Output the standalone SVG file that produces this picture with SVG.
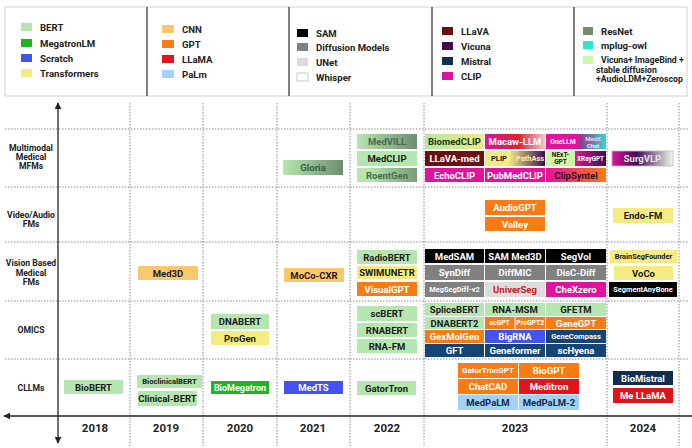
<svg xmlns="http://www.w3.org/2000/svg" width="692" height="448" viewBox="0 0 692 448">
<defs>
<style>
text{font-family:Roboto,"Liberation Sans",sans-serif;font-weight:bold;}
.lg{font-size:9.6px;fill:#222;}
.lg5{font-size:8.7px;fill:#222;}
.rl{font-size:8.6px;fill:#222;text-anchor:middle;}
.yr{font-size:11.5px;fill:#222;text-anchor:middle;}
.t{font-size:9.5px;text-anchor:middle;dominant-baseline:central;fill:#1a1a1a;}
.w{fill:#fff;}
.grid{stroke:#8a8a8a;stroke-width:1;stroke-dasharray:1.5 1.5;fill:none;}
.axis{stroke:#222;stroke-width:1.3;fill:none;}
.bert{fill:#b5e6b0;}.meg{fill:#1fb51f;}.scr{fill:#4453ee;}.trn{fill:#f5eb80;}
.cnn{fill:#fcc76a;}.gpt{fill:#fa7a14;}.lla{fill:#e0141a;}.palm{fill:#a0d2f8;}
.sam{fill:#000;}.dif{fill:#808080;}.une{fill:#dcdcdc;}.whi{fill:#fff;stroke:#bbb;stroke-width:0.8;}
.llv{fill:#6a1212;}.vic{fill:#3f0c50;}.mis{fill:#0e2f4f;}.clp{fill:#e0149a;}
.res{fill:#6e8e6e;}.mpl{fill:#28e8d2;}.vi2{fill:#cdf7a8;}.nav{fill:#164575;}
</style>
<marker id="ah" viewBox="0 0 10 10" refX="9" refY="5" markerWidth="7" markerHeight="7" markerUnits="userSpaceOnUse" orient="auto-start-reverse">
<path d="M0,0 L10,5 L0,10 z" fill="#222"/>
</marker>
<linearGradient id="gRes"><stop offset="0" stop-color="#b5e6b0"/><stop offset="1" stop-color="#6e8e6e"/></linearGradient>
<linearGradient id="gRes2"><stop offset="0.2" stop-color="#b5e6b0"/><stop offset="1" stop-color="#7a9a7a"/></linearGradient>
<linearGradient id="gBio"><stop offset="0" stop-color="#b5e6a0"/><stop offset="1" stop-color="#f2ea82"/></linearGradient>
<linearGradient id="gMac"><stop offset="0" stop-color="#e0149a"/><stop offset="0.55" stop-color="#e0202a"/><stop offset="1" stop-color="#f3c4d0"/></linearGradient>
<linearGradient id="gMedX"><stop offset="0" stop-color="#8a3a8e"/><stop offset="1" stop-color="#30d8d0"/></linearGradient>
<linearGradient id="gPlip"><stop offset="0.4" stop-color="#f2ea82"/><stop offset="1" stop-color="#3f0c50"/></linearGradient>
<linearGradient id="gXr"><stop offset="0" stop-color="#e0149a"/><stop offset="1" stop-color="#3f0c50"/></linearGradient>
<linearGradient id="gCs"><stop offset="0" stop-color="#e0149a"/><stop offset="1" stop-color="#fa7a14"/></linearGradient>
<linearGradient id="gSurg"><stop offset="0" stop-color="#e0149a"/><stop offset="0.4" stop-color="#3f0c50"/><stop offset="1" stop-color="#f0f8ee"/></linearGradient>
</defs>
<rect width="692" height="448" fill="#fff"/>

<g id="legend">
<rect x="5" y="7" width="682" height="89" fill="#fff" stroke="#cfcfcf"/>
<g stroke="#555" stroke-width="1.5"><line x1="147" y1="7" x2="147" y2="96"/><line x1="289" y1="7" x2="289" y2="96"/><line x1="432" y1="7" x2="432" y2="96"/><line x1="574" y1="7" x2="574" y2="96"/></g>
<rect x="21" y="23" width="11" height="8" class="bert"/><text class="lg" x="40" y="30.5">BERT</text>
<rect x="21" y="39" width="11" height="8" class="meg"/><text class="lg" x="40" y="46.5">MegatronLM</text>
<rect x="21" y="54" width="11" height="8" class="scr"/><text class="lg" x="40" y="61.5">Scratch</text>
<rect x="21" y="69" width="11" height="8" class="trn"/><text class="lg" x="40" y="76.5">Transformers</text>
<rect x="162" y="25" width="12" height="8" class="cnn"/><text class="lg" x="182" y="32.5">CNN</text>
<rect x="162" y="40" width="12" height="8" class="gpt"/><text class="lg" x="182" y="47.5">GPT</text>
<rect x="162" y="55" width="12" height="8" class="lla"/><text class="lg" x="182" y="62.5">LLaMA</text>
<rect x="162" y="70" width="12" height="8" class="palm"/><text class="lg" x="182" y="77.5">PaLm</text>
<rect x="297" y="29" width="11" height="8" class="sam"/><text class="lg" x="316" y="36.5">SAM</text>
<rect x="297" y="43" width="11" height="8" class="dif"/><text class="lg" x="316" y="50.5">Diffusion Models</text>
<rect x="297" y="58" width="11" height="8" class="une"/><text class="lg" x="316" y="65.5">UNet</text>
<rect x="297" y="73" width="11" height="8" class="whi"/><text class="lg" x="316" y="80.5">Whisper</text>
<rect x="442" y="27" width="11" height="8" class="llv"/><text class="lg" x="461" y="34.5">LLaVA</text>
<rect x="442" y="42" width="11" height="8" class="vic"/><text class="lg" x="461" y="49.5">Vicuna</text>
<rect x="442" y="57" width="11" height="8" class="mis"/><text class="lg" x="461" y="64.5">Mistral</text>
<rect x="442" y="72" width="11" height="8" class="clp"/><text class="lg" x="461" y="79.5">CLIP</text>
<rect x="583" y="27" width="10" height="8" class="res"/><text class="lg" x="601" y="34.5">ResNet</text>
<rect x="583" y="41" width="10" height="8" class="mpl"/><text class="lg" x="601" y="48.5">mplug-owl</text>
<rect x="583" y="56" width="10" height="8" class="vi2"/><text class="lg5" x="601" y="63">Vicuna+ ImageBind +</text>
<text class="lg5" x="596" y="72.5">stable diffusion</text>
<text class="lg5" x="596" y="82">+AudioLDM+Zeroscop</text>
</g>

<g id="connectors">
<g class="grid">
<line x1="5" y1="129" x2="688" y2="129"/><line x1="5" y1="187" x2="688" y2="187"/><line x1="5" y1="242" x2="688" y2="242"/><line x1="5" y1="301" x2="688" y2="301"/><line x1="5" y1="359" x2="688" y2="359"/>
<line x1="130" y1="103" x2="130" y2="446"/><line x1="203" y1="103" x2="203" y2="446"/><line x1="277" y1="103" x2="277" y2="446"/><line x1="350" y1="103" x2="350" y2="446"/><line x1="424" y1="103" x2="424" y2="446"/><line x1="607" y1="103" x2="607" y2="446"/><line x1="679" y1="103" x2="679" y2="446"/>
</g>
<line class="axis" x1="58" y1="103" x2="58" y2="443" marker-start="url(#ah)" marker-end="url(#ah)"/>
<line class="axis" x1="4" y1="416" x2="692" y2="416" marker-start="url(#ah)"/>
</g>

<g id="labels">
<text class="rl" x="31" y="151">Multimodal</text><text class="rl" x="31" y="160">Medical</text><text class="rl" x="31" y="169">MFMs</text>
<text class="rl" x="31" y="218">Video/Audio</text><text class="rl" x="31" y="227">FMs</text>
<text class="rl" x="31" y="266">Vision Based</text><text class="rl" x="31" y="275.5">Medical</text><text class="rl" x="31" y="285">FMs</text>
<text class="rl" x="31" y="333">OMICS</text>
<text class="rl" x="31" y="391">CLLMs</text>
<text class="yr" x="95" y="432">2018</text><text class="yr" x="166" y="432">2019</text><text class="yr" x="240" y="432">2020</text><text class="yr" x="313" y="432">2021</text><text class="yr" x="387" y="432">2022</text><text class="yr" x="515" y="432">2023</text><text class="yr" x="643" y="432">2024</text>
</g>

<!-- Multimodal -->
<g id="gloria"><rect x="283" y="160" width="60" height="15" fill="url(#gRes)"/><text class="t" x="313" y="167.5" style="fill:#3d5c3d">Gloria</text></g>
<g id="medvill"><rect x="357" y="134" width="60" height="15" fill="url(#gRes)"/><text class="t" x="387" y="141.5" style="fill:#4a6a4a">MedVILL</text></g>
<g id="medclip"><rect x="357" y="151" width="60" height="15" class="bert"/><text class="t" x="387" y="158.5">MedCLIP</text></g>
<g id="roentgen"><rect x="357" y="168" width="60" height="14" fill="url(#gRes2)"/><text class="t" x="387" y="175" style="fill:#4a6a4a">RoentGen</text></g>
<g id="biomedclip"><rect x="425" y="134" width="59" height="15" fill="url(#gBio)"/><text class="t" x="454.5" y="141.5" style="fill:#163a16">BiomedCLIP</text></g>
<g id="macaw"><rect x="485" y="134" width="60" height="15" fill="url(#gMac)"/><text class="t w" x="515" y="141.5">Macaw-LLM</text></g>
<g id="onellm"><rect x="546" y="134" width="34" height="15" class="clp"/><text class="t w" x="563" y="141.5" style="font-size:6.8px">OneLLM</text></g>
<g id="medxchat"><rect x="580" y="134" width="26" height="15" fill="url(#gMedX)"/><text class="t" x="593" y="138" style="font-size:6px;fill:#f0d0f0">MedX</text><text class="t" x="593" y="145" style="font-size:6px;fill:#f0f0f0">Chat</text></g>
<g id="llavamed"><rect x="425" y="151" width="59" height="15" class="llv"/><text class="t w" x="454.5" y="158.5">LLaVA-med</text></g>
<g id="plip"><rect x="485" y="151" width="60" height="15" fill="url(#gPlip)"/><text class="t" x="499" y="158.5" style="font-size:7.5px">PLIP</text><text class="t" x="530" y="158.5" style="font-size:7.5px;fill:#f4eec0">PathAss</text></g>
<g id="nextgpt"><rect x="546" y="151" width="29" height="15" class="vi2"/><text class="t" x="560.5" y="155" style="font-size:6.5px">NExT-</text><text class="t" x="560.5" y="162" style="font-size:6.5px">GPT</text></g>
<g id="xraygpt"><rect x="575" y="151" width="31" height="15" fill="url(#gXr)"/><text class="t w" x="590.5" y="158.5" style="font-size:6.3px">XRayGPT</text></g>
<g id="echoclip"><rect x="425" y="168" width="59" height="14" class="clp"/><text class="t w" x="454.5" y="175">EchoCLIP</text></g>
<g id="pubmedclip"><rect x="485" y="168" width="60" height="14" class="clp"/><text class="t w" x="515" y="175">PubMedCLIP</text></g>
<g id="clipsyntel"><rect x="546" y="168" width="60" height="14" fill="url(#gCs)"/><text class="t" x="576" y="175" style="fill:#3b0b26">ClipSyntel</text></g>
<g id="surgvlp"><rect x="612" y="151" width="61" height="15" fill="url(#gSurg)" stroke="#bbb" stroke-width="0.8"/><text class="t" x="642.5" y="158.5" style="fill:#e4e4e4">SurgVLP</text></g>

<!-- Video/Audio -->
<g id="audiogpt"><rect x="485" y="200" width="60" height="15" class="gpt"/><text class="t w" x="515" y="207.5">AudioGPT</text></g>
<g id="valley"><rect x="485" y="217" width="60" height="14" class="gpt"/><text class="t w" x="515" y="224">Valley</text></g>
<g id="endofm"><rect x="613" y="208" width="60" height="15" class="trn"/><text class="t" x="643" y="215.5">Endo-FM</text></g>

<!-- Vision -->
<g id="med3d"><rect x="138" y="266" width="60" height="14" class="cnn"/><text class="t" x="168" y="273">Med3D</text></g>
<g id="mococxr"><rect x="284" y="268" width="60" height="14" class="cnn"/><text class="t" x="314" y="275">MoCo-CXR</text></g>
<g id="radiobert"><rect x="357" y="250" width="60" height="14" class="bert"/><text class="t" x="387" y="257">RadioBERT</text></g>
<g id="swimunetr"><rect x="357" y="266" width="60" height="13" class="trn"/><text class="t" x="387" y="272.5">SWIMUNETR</text></g>
<g id="visualgpt"><rect x="357" y="282" width="60" height="14" class="gpt"/><text class="t w" x="387" y="289">VisualGPT</text></g>
<g id="medsam"><rect x="425" y="249" width="59" height="14" class="sam"/><text class="t w" x="454.5" y="256">MedSAM</text></g>
<g id="sammed3d"><rect x="485" y="249" width="60" height="14" class="sam"/><text class="t w" x="515" y="256">SAM Med3D</text></g>
<g id="segvol"><rect x="546" y="249" width="60" height="14" class="sam"/><text class="t w" x="576" y="256">SegVol</text></g>
<g id="syndiff"><rect x="425" y="265" width="59" height="15" class="dif"/><text class="t w" x="454.5" y="272.5">SynDiff</text></g>
<g id="diffmic"><rect x="485" y="265" width="60" height="15" class="dif"/><text class="t w" x="515" y="272.5">DiffMIC</text></g>
<g id="discdiff"><rect x="546" y="265" width="60" height="15" class="dif"/><text class="t w" x="576" y="272.5">DisC-Diff</text></g>
<g id="megsegdiff"><rect x="425" y="282" width="59" height="15" class="dif"/><text class="t w" x="454.5" y="289.5" style="font-size:7.4px">MegSegDiff-v2</text></g>
<g id="universeg"><rect x="485" y="282" width="60" height="15" class="une"/><text class="t" x="515" y="289.5" style="fill:#d01818">UniverSeg</text></g>
<g id="chexzero"><rect x="546" y="282" width="60" height="15" class="clp"/><text class="t w" x="576" y="289.5">CheXzero</text></g>
<g id="brainseg"><rect x="610" y="250" width="67" height="13" class="trn"/><text class="t" x="643.5" y="256.5" style="font-size:7.4px">BrainSegFounder</text></g>
<g id="voco"><rect x="614" y="266" width="59" height="14" class="trn"/><text class="t" x="643.5" y="273">VoCo</text></g>
<g id="segmentanybone"><rect x="609" y="282" width="68" height="15" class="sam"/><text class="t w" x="643" y="289.5" style="font-size:7.4px">SegmentAnyBone</text></g>

<!-- OMICS -->
<g id="dnabert"><rect x="211" y="314" width="58" height="15" class="bert"/><text class="t" x="240" y="321.5">DNABERT</text></g>
<g id="progen"><rect x="211" y="331" width="58" height="14" class="trn"/><text class="t" x="240" y="338">ProGen</text></g>
<g id="scbert"><rect x="357" y="306" width="60" height="15" class="bert"/><text class="t" x="387" y="313.5">scBERT</text></g>
<g id="rnabert"><rect x="357" y="323" width="60" height="14" class="bert"/><text class="t" x="387" y="330">RNABERT</text></g>
<g id="rnafm"><rect x="357" y="339" width="60" height="14" class="bert"/><text class="t" x="387" y="346">RNA-FM</text></g>
<g id="splicebert"><rect x="425" y="303" width="59" height="13" class="bert"/><text class="t" x="454.5" y="309.5">SpliceBERT</text></g>
<g id="rnamsm"><rect x="485" y="303" width="60" height="13" class="bert"/><text class="t" x="515" y="309.5">RNA-MSM</text></g>
<g id="gfetm"><rect x="546" y="303" width="60" height="13" class="bert"/><text class="t" x="576" y="309.5">GFETM</text></g>
<g id="dnabert2"><rect x="425" y="317" width="59" height="12" class="bert"/><text class="t" x="454.5" y="323">DNABERT2</text></g>
<g id="scgpt"><rect x="485" y="317" width="29.5" height="12" class="gpt"/><text class="t w" x="499.7" y="323" style="font-size:6.8px">scGPT</text></g>
<g id="progpt2"><rect x="515.5" y="317" width="29.5" height="12" class="gpt"/><text class="t w" x="530.2" y="323" style="font-size:6.8px">ProGPT2</text></g>
<g id="genegpt"><rect x="546" y="317" width="60" height="12" class="gpt"/><text class="t w" x="576" y="323">GeneGPT</text></g>
<g id="gexmolgen"><rect x="425" y="330" width="59" height="13" class="gpt"/><text class="t w" x="454.5" y="336.5">GexMolGen</text></g>
<g id="bigrna"><rect x="485" y="330" width="60" height="13" class="scr"/><text class="t w" x="515" y="336.5">BigRNA</text></g>
<g id="genecompass"><rect x="546" y="330" width="60" height="13" class="nav"/><text class="t w" x="576" y="336.5" style="font-size:7.6px">GeneCompass</text></g>
<g id="gft"><rect x="425" y="344" width="59" height="13" class="nav"/><text class="t w" x="454.5" y="350.5">GFT</text></g>
<g id="geneformer"><rect x="485" y="344" width="60" height="13" class="nav"/><text class="t w" x="515" y="350.5">Geneformer</text></g>
<g id="schyena"><rect x="546" y="344" width="60" height="13" class="nav"/><text class="t w" x="576" y="350.5">scHyena</text></g>

<!-- CLLMs -->
<g id="biobert"><rect x="64" y="380" width="59" height="14" class="bert"/><text class="t" x="93.5" y="387">BioBERT</text></g>
<g id="bioclinicalbert"><rect x="137" y="375" width="65" height="13" class="bert"/><text class="t" x="169.5" y="381.5" style="font-size:7.7px">BioclinicalBERT</text></g>
<g id="clinicalbert"><rect x="138" y="391" width="59" height="15" class="bert"/><text class="t" x="167.5" y="398.5">Clinical-BERT</text></g>
<g id="biomegatron"><rect x="211" y="381" width="58" height="13" class="meg"/><text class="t w" x="240" y="387.5" style="font-size:9px">BioMegatron</text></g>
<g id="medts"><rect x="284" y="381" width="59" height="13" class="scr"/><text class="t w" x="313.5" y="387.5">MedTS</text></g>
<g id="gatortron"><rect x="357" y="381" width="59" height="14" class="bert"/><text class="t" x="386.5" y="388">GatorTron</text></g>
<g id="gatortrongpt"><rect x="458" y="363" width="60" height="15" class="gpt"/><text class="t w" x="488" y="370.5" style="font-size:8px">GatorTronGPT</text></g>
<g id="biogpt"><rect x="519" y="363" width="60" height="15" class="gpt"/><text class="t w" x="549" y="370.5">BioGPT</text></g>
<g id="chatcad"><rect x="458" y="379" width="60" height="15" class="gpt"/><text class="t w" x="488" y="386.5">ChatCAD</text></g>
<g id="meditron"><rect x="519" y="379" width="60" height="15" class="lla"/><text class="t w" x="549" y="386.5">Meditron</text></g>
<g id="medpalm"><rect x="458" y="395" width="60" height="15" class="palm"/><text class="t" x="488" y="402.5" style="fill:#13284a">MedPaLM</text></g>
<g id="medpalm2"><rect x="519" y="395" width="60" height="15" class="palm"/><text class="t" x="549" y="402.5" style="fill:#13284a">MedPaLM-2</text></g>
<g id="biomistral"><rect x="613" y="371" width="60" height="14" class="mis"/><text class="t w" x="643" y="378">BioMistral</text></g>
<g id="mellama"><rect x="613" y="388" width="60" height="15" class="lla"/><text class="t w" x="643" y="395.5">Me LLaMA</text></g>
</svg>
